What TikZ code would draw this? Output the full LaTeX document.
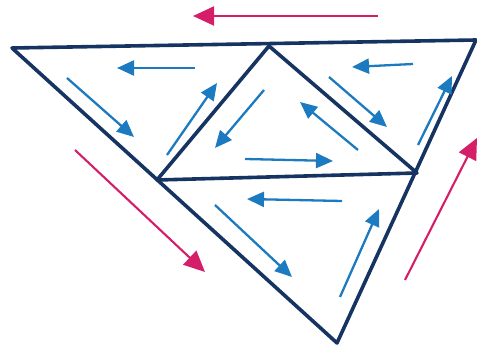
\documentclass[tikz,border=0pt]{standalone}
\usepackage{xcolor}
\usepackage{tikz}
\usetikzlibrary{arrows.meta}

\definecolor{edgenavy}{RGB}{22,52,98}
\definecolor{flowblue}{RGB}{28,122,192}
\definecolor{loopred}{RGB}{212,30,104}

\begin{document}
\begin{tikzpicture}[
    x=1pt, y=-1pt,
    edge/.style={draw=edgenavy, line width=3.6pt, line join=round},
    flow/.style={flowblue, line width=2.3pt, -{Triangle[length=17pt, width=15pt]}},
    outer/.style={loopred, line width=2.1pt, -{Triangle[length=21pt, width=19pt]}},
]
\useasboundingbox (0,0) rectangle (477,352);

% vertices of the big triangle and the edge midpoints
\coordinate (left) at (12,48);
\coordinate (right) at (476,40);
\coordinate (bottom) at (337,343);
\coordinate (mtop) at (269,46);
\coordinate (mleft) at (157,180);
\coordinate (mright) at (417,173);

\draw[edge] (left) -- (right) -- (bottom) -- cycle;
\draw[edge] (mtop) -- (mleft) -- (mright) -- cycle;

% circulation inside each small triangle
\draw[flow] (195,68) -- (117,68);
\draw[flow] (67,78) -- (134,137);
\draw[flow] (167,155) -- (217,83);

\draw[flow] (264,90) -- (215,148);
\draw[flow] (358,150) -- (300,102);
\draw[flow] (245,159) -- (333,161);

\draw[flow] (413,64) -- (352,67);
\draw[flow] (329,77) -- (387,127);
\draw[flow] (418,145) -- (452,76);

\draw[flow] (342,201) -- (247,199);
\draw[flow] (215,205) -- (292,277);
\draw[flow] (340,297) -- (379,209);

% circulation round the outside
\draw[outer] (378,16) -- (193,16);
\draw[outer] (75,150) -- (205,272);
\draw[outer] (405,280) -- (477,138);
\end{tikzpicture}
\end{document}
